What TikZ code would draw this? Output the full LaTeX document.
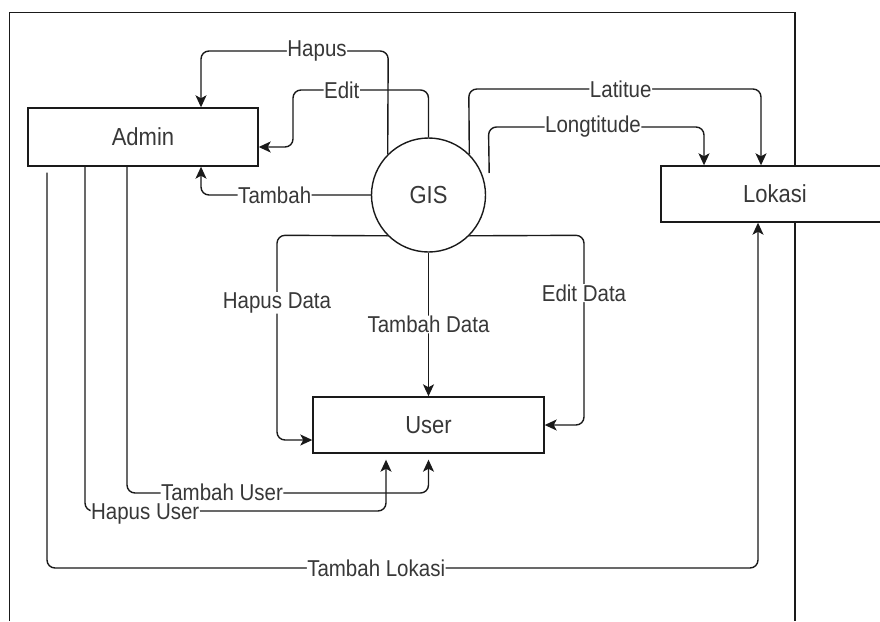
\documentclass[tikz,border=0pt]{standalone}
\usepackage{graphicx}
\usepackage{fontspec}
\setmainfont{Liberation Sans}
\usetikzlibrary{arrows.meta,calc}
\definecolor{txt}{HTML}{383838}
\definecolor{ln}{HTML}{1A1A1A}
\newcommand{\tall}[1]{\scalebox{1}[1.12]{#1}}
\begin{document}
\begin{tikzpicture}[x=1pt,y=-1pt,
  box/.style={draw=ln,line width=1.4pt,fill=white,minimum width=230pt,minimum height=57pt,inner sep=0pt,text=txt,font=\fontsize{22}{26}\selectfont},
  proc/.style={circle,draw=ln,line width=1.4pt,fill=white,minimum size=114pt,inner sep=0pt,text=txt,font=\fontsize{22}{26}\selectfont},
  flow/.style={draw=ln,line width=1.4pt,rounded corners=8pt,-{Stealth[length=12pt,width=11pt,inset=3pt]}},
  lab/.style={fill=white,text=txt,inner sep=0.5pt,font=\fontsize{20.5}{24}\selectfont}]
\useasboundingbox (0,0) rectangle (880,621);
\clip (0,0) rectangle (880,621);
\fill[white] (0,0) rectangle (880,621);
% outer frame
\draw[line width=1.3pt,ln] (9.5,621) -- (9.5,12.7) -- (795,12.7) -- (795,621);
% nodes
\node[box,minimum height=58pt] (admin) at (143,137) {\tall{Admin}};
\node[proc] (gis) at (428.5,195) {\tall{GIS}};
\node[box,minimum width=228pt,minimum height=56pt] (lokasi) at (775,194) {\tall{Lokasi}};
\node[box,minimum width=231pt,minimum height=56pt] (user) at (428.5,425) {\tall{User}};
% connectors
\draw[flow] (gis.135) -- (388.2,51) -- node[lab,pos=0.38]{\tall{Hapus}} (201,51) -- ($(admin.north)+(58,0)$);
\draw[flow] (gis.north) -- (428.5,90) -- node[lab,pos=0.64]{\tall{Edit}} (293,90) -- (293,147) -- ($(admin.east)+(0,10)$);
\draw[flow] (gis.west) -- node[lab,pos=0.566]{\tall{Tambah}} (201,195) -- ($(admin.south)+(58,0)$);
\draw[flow] (gis.45) -- (468.8,89) -- node[lab,pos=0.52]{\tall{Latitue}} (761,89) -- ($(lokasi.north)+(-14,0)$);
\draw[flow] ($(gis.east)+(3,-22)$) -- (488.5,127) -- node[lab,pos=0.485]{\tall{Longtitude}} (704,127) -- ($(lokasi.north)+(-71,0)$);
\draw[flow] (gis.225) -- (277,235.3) -- node[lab,pos=0.33]{\tall{Hapus Data}} (277,440) -- ($(user.west)+(0,15)$);
\draw[flow] (gis.south) -- node[lab]{\tall{Tambah Data}} (user.north);
\draw[flow] (gis.-45) -- (584,235.3) -- node[lab,pos=0.305]{\tall{Edit Data}} (584,425) -- (user.east);
\draw[flow,shorten >=6pt] ($(admin.south)+(-16,0)$) -- (127,493) -- node[lab,pos=0.315,yshift=1pt]{\tall{Tambah User}} (428.5,493) -- (user.south);
\draw[flow,shorten >=6pt] ($(admin.south)+(-58,0)$) -- (85,511) -- node[lab,pos=0.2,yshift=-2.5pt]{\tall{Hapus User}} (386,511) -- ($(user.south)+(-42.5,0)$);
\draw[flow] ($(admin.south)+(-96,6)$) -- (47,568) -- node[lab,pos=0.463]{\tall{Tambah Lokasi}} (758,568) -- ($(lokasi.south)+(-17,0)$);
\end{tikzpicture}
\end{document}
